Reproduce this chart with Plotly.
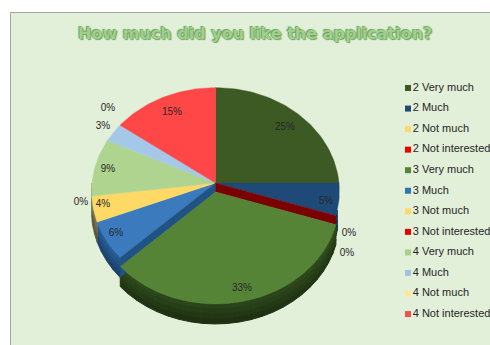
import math
import plotly.graph_objects as go

# Share of answers per group and rating, in percent
categories = ["2 Very much", "2 Much", "2 Not much", "2 Not interested",
              "3 Very much", "3 Much", "3 Not much", "3 Not interested",
              "4 Very much", "4 Much", "4 Not much", "4 Not interested"]
values = [25, 5, 0, 0, 33, 6, 4, 0, 9, 3, 0, 15]

slice_colors = ["#3d5a25", "#1f4a78", "#ffd966", "#c00000",
                "#568437", "#3a7abd", "#ffd966", "#e00000",
                "#aed48f", "#a6c8e8", "#ffe699", "#ff4747"]
wall_colors = ["#2c431b", "#163654", "#b89c48", "#7a0000",
               "#2a4419", "#225487", "#6f6a4a", "#7a0000",
               "#7d9a66", "#7790a8", "#b8a66e", "#b83333"]
legend_colors = ["#3d5a25", "#1f4a78", "#ffd966", "#f00000",
                 "#568437", "#2e75b6", "#ffd966", "#e60000",
                 "#a9d08e", "#9dc3e6", "#ffe699", "#f25050"]

# Text placement of the percentage labels, one per category
label_x = [285, 326, 349, 347, 242, 116, 103, 81, 108, 103, 108, 172]
label_y = [127, 201, 233, 253, 288, 233, 204, 202, 169, 126, 108, 112]

CX, CY, RX, RY, TILT, DEPTH = 215.5, 183, 123.5, 103, 0.08, 20
EXPLODED = "3 Very much"
EXPLODE_DX, EXPLODE_DY = 0, 9
RIM_BANDS = 4
RIM_FROM, RIM_TO = 105, 270  # the part of the outer rim facing the viewer


def project(angle_deg, radius=1.0):
    """Point on the tilted pie top, angle measured clockwise from twelve o'clock."""
    a = math.radians(angle_deg)
    u, v = radius * math.sin(a), -radius * math.cos(a)
    d = 1 - TILT * v
    return CX + RX * u / d, CY + RY * v / d


def arc(start, end):
    n = max(2, int(abs(end - start) / 1.5) + 2)
    return [project(start + (end - start) * i / (n - 1)) for i in range(n)]


def shade(hex_color, f):
    r, g, b = (int(hex_color[i:i + 2], 16) for i in (1, 3, 5))
    return f"rgb({min(255, r * f):.0f},{min(255, g * f):.0f},{min(255, b * f):.0f})"


def polygon(points, color, name, edge=0.4):
    return go.Scatter(x=[p[0] for p in points] + [points[0][0]],
                      y=[p[1] for p in points] + [points[0][1]],
                      mode="lines", fill="toself", fillcolor=color,
                      line=dict(width=edge, color=color), name=name,
                      hoverinfo="name", showlegend=False)


fig = go.Figure()

# Slice spans from the data
total = sum(values)
spans, running = [], 0.0
for v in values:
    spans.append((running, running + 360 * v / total))
    running += 360 * v / total

walls, faces = [], []
for name, (a0, a1), col, wall in zip(categories, spans, slice_colors, wall_colors):
    if a1 <= a0:
        continue
    dx, dy = (EXPLODE_DX, EXPLODE_DY) if name == EXPLODED else (0, 0)
    # Outer rim, shaded around and downwards
    lo, hi = max(a0, RIM_FROM), min(a1, RIM_TO)
    if hi > lo:
        steps = max(1, int((hi - lo) / 5))
        for i in range(steps):
            s = lo + (hi - lo) * i / steps
            e = lo + (hi - lo) * (i + 1) / steps
            around = 0.92 + 0.22 * abs((s + e) / 2 - 180) / 90
            rim = [(x + dx, y + dy) for x, y in arc(s, e)]
            for b in range(RIM_BANDS):
                up = DEPTH * b / RIM_BANDS
                down = DEPTH * (b + 1) / RIM_BANDS
                strip = [(x, y + up) for x, y in rim] + [(x, y + down) for x, y in rim[::-1]]
                walls.append(polygon(strip, shade(wall, around * (1.06 - 0.1 * b)), name, edge=1))
    pts = [(CX + dx, CY + dy)] + [(x + dx, y + dy) for x, y in arc(a0, a1)]
    faces.append(polygon(pts, col, name))

ex = categories.index(EXPLODED)
ex0, ex1 = spans[ex]

# Cut faces left open by the exploded slice
right_rim = project(ex0)
left_rim = project(ex1)
cut_right = polygon([(CX, CY), right_rim,
                     (right_rim[0] + EXPLODE_DX, right_rim[1] + EXPLODE_DY),
                     (CX + EXPLODE_DX, CY + EXPLODE_DY)], "#7a0000", "2 Not interested")
cut_left = polygon([(CX, CY), left_rim,
                    (left_rim[0], left_rim[1] + DEPTH),
                    (CX + EXPLODE_DX, CY + EXPLODE_DY)], "#1f5285", "3 Much")

for t in walls:
    fig.add_trace(t)
# Faces of the unexploded slices come first, then the cuts and the exploded slice
for t in faces:
    if t.name != EXPLODED:
        fig.add_trace(t)
fig.add_trace(cut_left)
fig.add_trace(cut_right)
for t in faces:
    if t.name == EXPLODED:
        fig.add_trace(t)

# Percentage labels
fig.add_trace(go.Scatter(
    x=label_x, y=label_y, mode="text",
    text=[f"{v}%" for v in values],
    textfont=dict(family="Liberation Sans", size=10, color="#262626"),
    hoverinfo="skip", showlegend=False))

# Legend column: square swatch followed by the category name
legend_y = [88 + 20.55 * i for i in range(len(categories))]
fig.add_trace(go.Scatter(
    x=[408] * len(categories), y=legend_y, mode="markers+text",
    marker=dict(symbol="square", size=6, color=legend_colors),
    text=categories, textposition="middle right",
    textfont=dict(family="Liberation Sans", size=11, color="#262626"),
    hoverinfo="skip", showlegend=False))

fig.update_layout(
    width=490, height=345, margin=dict(l=0, r=0, t=0, b=0),
    paper_bgcolor="#ffffff", plot_bgcolor="#ffffff", showlegend=False,
    xaxis=dict(range=[0, 490], visible=False, fixedrange=True),
    yaxis=dict(range=[345, 0], visible=False, fixedrange=True),
    shapes=[
        dict(type="rect", x0=10.5, x1=491, y0=12.5, y1=346,
             fillcolor="#e2efd9", line=dict(color="#a0a89c", width=1), layer="below"),
    ],
    annotations=[dict(
        x=254.5, y=33, xref="x", yref="y", showarrow=False,
        text="<b>How much did you like the application?</b>",
        font=dict(family="DejaVu Sans", size=16, color="#a3cf8c",
                  shadow="0 0 1px #5e9a55, 1px 1px 1px #6fa865, -1px -1px 1px #6fa865"),
    )],
)

fig.write_html("out.html")
